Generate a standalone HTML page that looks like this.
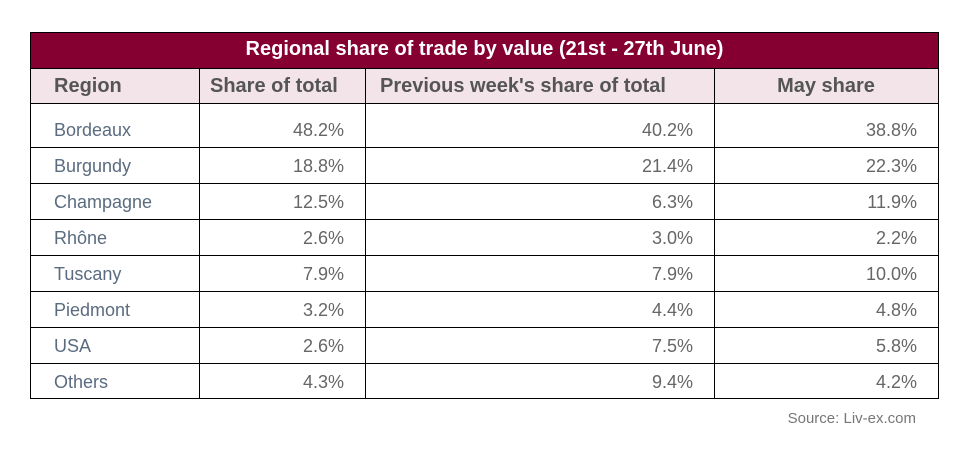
<!DOCTYPE html>
<html><head><meta charset="utf-8"><style>
body{margin:0;width:969px;height:457px;background:#fff;font-family:"Liberation Sans",sans-serif;position:relative;overflow:hidden}
.a{position:absolute;box-sizing:border-box}
.t{position:absolute;white-space:nowrap;line-height:20px;height:20px}
.hl{background:#000}
</style></head><body>
<div class="a" style="left:30px;top:32px;width:909px;height:367px;border:1px solid #000"></div>
<div class="a" style="left:31px;top:33px;width:907px;height:35px;background:#850031;color:#fff;font-size:20px;font-weight:bold;text-align:center;line-height:33px">Regional share of trade by value (21st - 27th June)</div>
<div class="a" style="left:31px;top:68px;width:907px;height:35px;background:#f3e4ea;border-top:1px solid #000"></div>
<div class="a hl" style="left:31px;top:103px;width:907px;height:1px"></div>
<div id="vlines"></div>
<div class="t" style="left:54px;top:76px;font-size:20px;font-weight:bold;color:#555">Region</div>
<div class="t" style="left:210px;top:76px;font-size:20px;font-weight:bold;color:#555">Share of total</div>
<div class="t" style="left:380px;top:76px;font-size:20px;font-weight:bold;color:#555">Previous week's share of total</div>
<div class="t" style="left:714px;width:224px;text-align:center;top:76px;font-size:20px;font-weight:bold;color:#555">May share</div>
<div id="rows"></div>
<div class="t" style="right:53px;top:409px;font-size:15px;color:#777">Source: Liv-ex.com</div>
<script>
const regions=["Bordeaux","Burgundy","Champagne","Rhône","Tuscany","Piedmont","USA","Others"];
const shareTotal=["48.2%","18.8%","12.5%","2.6%","7.9%","3.2%","2.6%","4.3%"];
const prevWeek=["40.2%","21.4%","6.3%","3.0%","7.9%","4.4%","7.5%","9.4%"];
const mayShare=["38.8%","22.3%","11.9%","2.2%","10.0%","4.8%","5.8%","4.2%"];
const rows=document.getElementById('rows');
[199,365,714].forEach(x=>{const d=document.createElement('div');d.className='a hl';


d.style.cssText=`left:${x}px;top:68px;width:1px;height:330px`;rows.appendChild(d);});
regions.forEach((r,i)=>{
 const bottom=147+i*36, mid=bottom-17;
 if(i<regions.length-1){const l=document.createElement('div');l.className='a hl';
 
 
 l.style.cssText=`left:31px;top:${bottom}px;width:907px;height:1px`;rows.appendChild(l);}
 const mk=(txt,style,name)=>{const e=document.createElement('div');e.className='t';e.textContent=txt;
  
  
  e.style.cssText=`top:${mid-10}px;font-size:18px;color:#666;`+style;rows.appendChild(e);};
 mk(r,'left:54px;color:#5b6b80','region-name');
 mk(shareTotal[i],'right:'+(969-344)+'px','share-total-value');
 mk(prevWeek[i],'right:'+(969-693)+'px','prev-week-value');
 mk(mayShare[i],'right:'+(969-917)+'px','may-share-value');
});
</script>
</body></html>
